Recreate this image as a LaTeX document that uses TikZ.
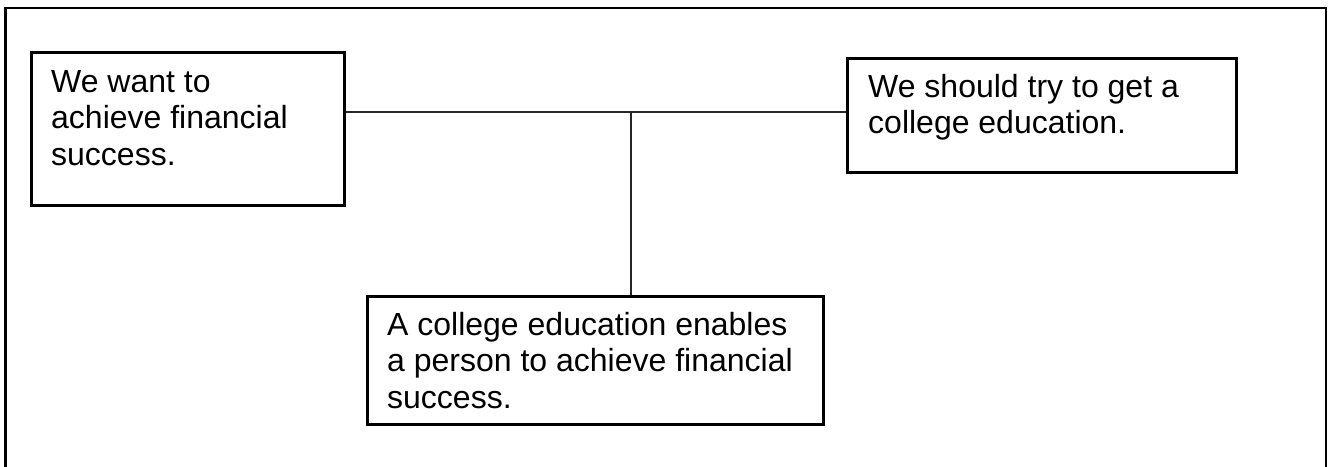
\documentclass[tikz,border=0pt]{standalone}
\usepackage{fontspec}
\setmainfont{Liberation Sans}
\begin{document}
\begin{tikzpicture}[x=1pt,y=-1pt,
  claim/.style={draw=black,line width=2.6pt,inner sep=0pt,
    rectangle,anchor=north west},
  claimtext/.style={anchor=north west,inner sep=0pt,align=left,
    font=\fontsize{32}{36.7}\selectfont},
  link/.style={draw=black!85,line width=1.8pt}]
  \clip (0,0) rectangle (1328,466);
  \fill[white] (0,0) rectangle (1328,466);
  % open frame around the argument
  \draw[line width=2.8pt] (5.5,480) -- (5.5,8) -- (1326,8) -- (1326,480);

  % claim boxes
  \node[claim,minimum width=313pt,minimum height=153pt] (reason) at (30,51) {};
  \node[claim,minimum width=389pt,minimum height=114pt] (conclusion) at (846,57) {};
  \node[claim,minimum width=456pt,minimum height=128pt] (warrant) at (366,295) {};

  % texts, first baseline = top + 25.69
  \node[claimtext] (reasontext) at (51,66.3)
    {\strut We want to\\achieve financial\\success.};
  \node[claimtext] (conclusiontext) at (868,71.3)
    {\strut We should try to get a\\college education.};
  \node[claimtext] (warranttext) at (387,309.3)
    {\strut A college education enables\\a person to achieve financial\\success.};

  % connectors
  \coordinate (joint) at (631,112);
  \draw[link] (reason.east |- joint) -- (conclusion.west |- joint);
  \draw[link] (joint) -- (joint |- warrant.north);
\end{tikzpicture}
\end{document}
